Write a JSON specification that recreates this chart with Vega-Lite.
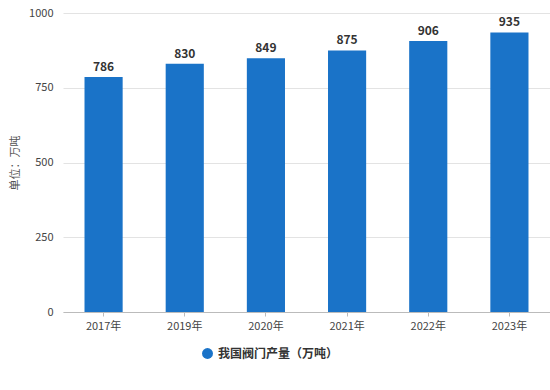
{
  "$schema": "https://vega.github.io/schema/vega-lite/v6.json",
  "width": 487,
  "height": 299,
  "autosize": "none",
  "padding": {"left": 63, "top": 13, "right": 0, "bottom": 78},
  "background": "white",
  "config": {"view": {"stroke": null}, "font": "Noto Sans CJK SC"},
  "data": {"values": [
    {"year": "2017年", "value": 786, "series": "我国阀门产量（万吨）"},
    {"year": "2019年", "value": 830, "series": "我国阀门产量（万吨）"},
    {"year": "2020年", "value": 849, "series": "我国阀门产量（万吨）"},
    {"year": "2021年", "value": 875, "series": "我国阀门产量（万吨）"},
    {"year": "2022年", "value": 906, "series": "我国阀门产量（万吨）"},
    {"year": "2023年", "value": 935, "series": "我国阀门产量（万吨）"}
  ]},
  "encoding": {
    "x": {"field": "year", "type": "nominal", "sort": null,
      "scale": {"paddingInner": 0.53, "paddingOuter": 0.265},
      "axis": {"title": null, "labelAngle": 0, "labelFontSize": 11, "labelColor": "#444", "domainColor": "#bbb", "tickColor": "#bbb", "tickSize": 4, "labelPadding": 4, "grid": false}},
    "y": {"field": "value", "type": "quantitative",
      "scale": {"domain": [0, 1000]},
      "axis": {"title": "单位：万吨", "titleFontSize": 11, "titleFontWeight": "normal", "titleColor": "#555", "titlePadding": 8, "values": [0, 250, 500, 750, 1000], "format": "d", "labelFontSize": 11, "labelColor": "#444", "domain": false, "ticks": false, "labelPadding": 10, "gridColor": "#e3e3e3"}}
  },
  "layer": [
    {"mark": {"type": "bar", "color": "#1a73c8"},
     "encoding": {"color": {"field": "series", "type": "nominal", "scale": {"range": ["#1a73c8"]},
       "legend": {"title": null, "orient": "none", "legendX": 138, "legendY": 334, "symbolType": "circle", "symbolSize": 120, "labelFontSize": 12, "labelColor": "#333", "labelFontWeight": "bold"}}}},
    {"mark": {"type": "text", "dy": -10, "fontWeight": "bold", "fontSize": 12, "color": "#333"},
     "encoding": {"text": {"field": "value", "type": "quantitative"}}}
  ]
}
